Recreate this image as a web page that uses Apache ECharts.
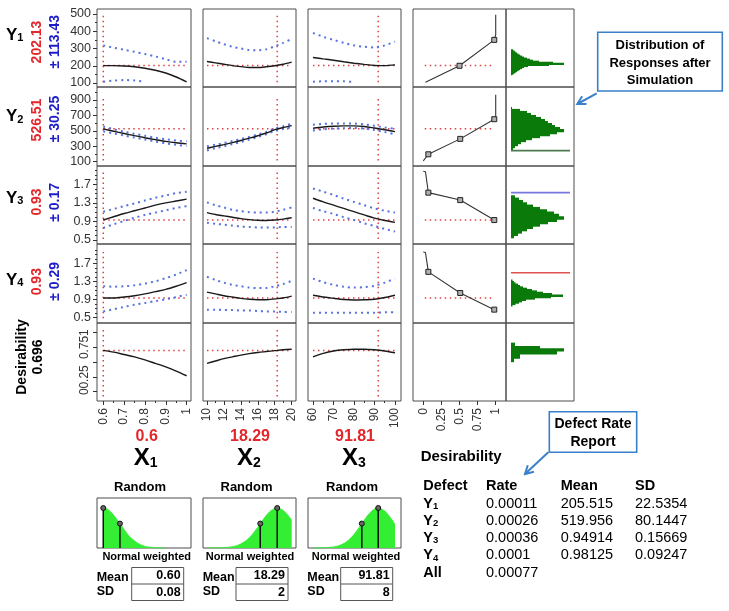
<!DOCTYPE html>
<html><head><meta charset="utf-8">
<script src="https://cdn.jsdelivr.net/npm/echarts@6/dist/echarts.min.js"></script>
<style>html,body{margin:0;padding:0;background:#fff}#c{width:729px;height:611px}</style>
</head><body><div id="c"></div>
<script>
// ================= DATA =================
const x1Grid = [0.6, 0.65, 0.7, 0.75, 0.8, 0.85, 0.9, 0.95, 1.0];
const x2Grid = [10, 11, 12, 13, 14, 15, 16, 17, 18, 19, 20];
const x3Grid = [60, 65, 70, 75, 80, 85, 90, 95, 100];
const factorRange = [[0.6, 1], [10, 20], [60, 100]];

const currentX = [0.6, 18.29, 91.81];
const currentXText = ['0.6', '18.29', '91.81'];
const currentY = [202.13, 526.51, 0.93, 0.93];
const currentYText = ['202.13', '526.51', '0.93', '0.93'];
const halfWidthText = ['\u00b1 113.43', '\u00b1 30.25', '\u00b1 0.17', '\u00b1 0.29'];
const currentD = 0.696;

// Y1 profiles
const y1_x1 = [201, 201, 199, 194, 186, 174, 158, 135, 107];
const y1_x1_hi = [318, 305, 293, 281, 268, 254, 238, 223, 224];
const y1_x1_lo = [108, 114, 117, 115, 107, null, null, null, null];
const y1_x2 = [225, 217, 209, 201, 195, 190, 190, 194, 200, 209, 221];
const y1_x2_hi = [360, 342, 325, 310, 300, 292, 290, 295, 313, 333, 355];
const y1_x2_lo = [null, null, null, null, null, null, null, null, null, null, null];
const y1_x3 = [248, 240, 232, 223, 215, 208, 202, 201, 205];
const y1_x3_hi = [390, 368, 350, 333, 318, 310, 306, 318, 340];
const y1_x3_lo = [108, 110, 111, 110, 106, null, null, null, null];
// Y2 profiles
const y2_x1 = [526, 495, 466, 438, 411, 386, 363, 345, 331];
const y2_x1_hi = [556, 522, 490, 461, 436, 411, 390, 374, 364];
const y2_x1_lo = [494, 466, 440, 413, 387, 361, 338, 318, 302];
const y2_x2 = [275, 298, 322, 348, 375, 405, 437, 472, 515, 543, 568];
const y2_x2_hi = [300, 320, 343, 368, 393, 422, 453, 487, 530, 560, 592];
const y2_x2_lo = [245, 275, 300, 328, 356, 388, 420, 455, 497, 525, 548];
const y2_x3 = [535, 550, 560, 565, 565, 557, 537, 515, 490];
const y2_x3_hi = [580, 590, 595, 597, 595, 585, 565, 545, 525];
const y2_x3_lo = [505, 520, 530, 535, 538, 530, 510, 485, 455];
// Y3 profiles
const y3_x1 = [0.93, 1.0, 1.07, 1.13, 1.19, 1.25, 1.3, 1.34, 1.38];
const y3_x1_hi = [1.11, 1.17, 1.23, 1.29, 1.35, 1.41, 1.46, 1.51, 1.54];
const y3_x1_lo = [0.76, 0.84, 0.91, 0.98, 1.04, 1.09, 1.14, 1.19, 1.23];
const y3_x2 = [1.09, 1.05, 1.02, 0.99, 0.96, 0.94, 0.925, 0.92, 0.93, 0.95, 0.98];
const y3_x2_hi = [1.31, 1.25, 1.2, 1.15, 1.12, 1.1, 1.09, 1.09, 1.11, 1.15, 1.2];
const y3_x2_lo = [0.87, 0.85, 0.83, 0.81, 0.79, 0.78, 0.77, 0.77, 0.77, 0.78, 0.78];
const y3_x3 = [1.40, 1.32, 1.25, 1.18, 1.11, 1.04, 0.97, 0.92, 0.88];
const y3_x3_hi = [1.61, 1.54, 1.47, 1.39, 1.32, 1.25, 1.18, 1.13, 1.09];
const y3_x3_lo = [1.19, 1.12, 1.06, 0.99, 0.93, 0.86, 0.8, 0.74, 0.68];
// Y4 profiles
const y4_x1 = [0.93, 0.93, 0.95, 0.98, 1.02, 1.07, 1.12, 1.19, 1.27];
const y4_x1_hi = [1.19, 1.18, 1.19, 1.21, 1.25, 1.3, 1.37, 1.45, 1.55];
const y4_x1_lo = [0.63, 0.68, 0.73, 0.78, 0.82, 0.86, 0.9, 0.95, 1.0];
const y4_x2 = [1.06, 1.02, 0.98, 0.95, 0.92, 0.9, 0.89, 0.89, 0.91, 0.93, 0.97];
const y4_x2_hi = [1.40, 1.33, 1.27, 1.22, 1.19, 1.16, 1.15, 1.15, 1.19, 1.24, 1.31];
const y4_x2_lo = [0.67, 0.67, 0.66, 0.66, 0.65, 0.65, 0.64, 0.63, 0.63, 0.62, 0.62];
const y4_x3 = [0.99, 0.95, 0.92, 0.895, 0.885, 0.89, 0.9, 0.94, 0.99];
const y4_x3_hi = [1.36, 1.28, 1.22, 1.18, 1.16, 1.17, 1.2, 1.27, 1.36];
const y4_x3_lo = [0.6, 0.6, 0.6, 0.6, 0.6, 0.6, 0.6, 0.61, 0.61];
// Desirability profiles
const d_x1 = [0.70, 0.67, 0.63, 0.59, 0.54, 0.48, 0.42, 0.35, 0.27];
const d_x2 = [0.48, 0.52, 0.56, 0.59, 0.62, 0.645, 0.665, 0.68, 0.695, 0.71, 0.72];
const d_x3 = [0.59, 0.65, 0.69, 0.71, 0.72, 0.72, 0.71, 0.69, 0.66];

// extent of vertical current-value lines per row
const vLineExtent = [[105, 495], [115, 935], [0.52, 1.97], [0.48, 1.95], [-0.08, 1.05]];

// desirability functions (desirability, response); key = marked point
const dfY1_d = [0.03, 0.05, 0.5, 0.98, 1.0, 1.0];
const dfY1_v = [105, 112, 200, 350, 380, 495];
const dfY2_d = [0.0, 0.07, 0.51, 0.98, 1.0, 1.0];
const dfY2_v = [110, 196, 396, 651, 690, 970];
const dfY3_d = [0.0, 0.03, 0.07, 0.51, 0.98, 1.0];
const dfY3_v = [1.98, 1.97, 1.52, 1.36, 0.93, 0.93];
const dfY4_d = [0.0, 0.03, 0.07, 0.51, 0.98, 1.0];
const dfY4_v = [1.95, 1.94, 1.51, 1.04, 0.67, 0.66];
const dfY1_key = [false, false, true, true, false, false];
const dfY2_key = [false, true, true, true, false, false];
const dfY3_key = [false, false, true, true, true, false];
const dfY4_key = [false, false, true, true, true, false];

// simulated response histograms (bin centre, count)
const histY1_c = [151,157,163,169,175,181,187,193,199,205,211,217,223,229,235,241,247,253,259,265,271,277,283,289];
const histY1_n = [1.5,3,4.5,6,7.5,9,11,13,17,38,53,42,28,22,19,16,13,11,9,7.5,6,4.5,3.5,2];
const histY1_w = 6;
const histY2_c = [270,296,322,348,374,400,426,452,478,504,530,556,582,608,634,660,686,712,738,764,790];
const histY2_n = [2,4,7,10,15,21,29,39,46,53,49,44,41,37,34,30,25,20,16,9,1];
const histY2_w = 26;
const histY3_c = [0.575,0.625,0.675,0.725,0.775,0.825,0.875,0.925,0.975,1.025,1.075,1.125,1.175,1.225,1.275,1.325,1.375,1.425];
const histY3_n = [3,7,11,16,22,29,37,46,53,48,43,36,29,22,16,12,8,4];
const histY3_w = 0.05;
const histY4_c = [0.77,0.80,0.83,0.86,0.89,0.92,0.95,0.98,1.01,1.04,1.07,1.10,1.13,1.16,1.19,1.22,1.25,1.28,1.31];
const histY4_n = [1.5,4.5,8,11,15,24,40,52,41,32,26,21,16,12,9,7,4.5,3,1.5];
const histY4_w = 0.03;
const histD_lo = [0.764, 0.725, 0.691, 0.640, 0.568, 0.51];
const histD_hi = [0.821, 0.764, 0.725, 0.691, 0.640, 0.568];
const histD_n = [4, 29, 53, 46, 9, 3];
const specLimit = [null, 244, 1.52, 1.49, null];
const specLen = 59;

// factor input distributions (normal weighted)
const distX1 = [0.6,0.62,0.64,0.66,0.68,0.70,0.72,0.74,0.76,0.78,0.80,0.82,0.84,0.86,0.88,0.90];
const distH1 = [1,0.97,0.88,0.75,0.61,0.46,0.32,0.22,0.14,0.08,0.04,0.02,0.01,0.005,0.002,0.001];
const distX2 = [10,11,12,13,13.5,14,14.5,15,15.5,16,16.5,17,17.5,18,18.29,18.5,19,19.5,20];
const distH2 = [0.0002,0.0013,0.007,0.03,0.057,0.10,0.166,0.258,0.378,0.519,0.67,0.812,0.925,0.99,1,0.994,0.939,0.833,0.694];
const distX3 = [60,65,70,72.5,75,77.5,80,82.5,85,87.5,90,91.81,92.5,95,97.5,100];
const distH3 = [0.0004,0.004,0.024,0.054,0.11,0.202,0.336,0.508,0.696,0.865,0.975,1,0.996,0.924,0.777,0.592];
const distMean = [0.6, 18.29, 91.81];
const distSdPoint = [0.68, 16.29, 83.81];
const distSdH = 0.61;
const meanText = ['0.60', '18.29', '91.81'];
const sdText = ['0.08', '2', '8'];

// defect table
const defectNames = ['1', '2', '3', '4'];
const defectRate = ['0.00011', '0.00026', '0.00036', '0.0001'];
const defectMean = ['205.515', '519.956', '0.94914', '0.98125'];
const defectSD = ['22.5354', '80.1447', '0.15669', '0.09247'];
const defectAll = '0.00077';

// tick values
const x1Ticks = [0.6, 0.7, 0.8, 0.9, 1], x1Minor = [0.65, 0.75, 0.85, 0.95];
const x2Ticks = [10, 12, 14, 16, 18, 20], x2Minor = [11, 13, 15, 17, 19];
const x3Ticks = [60, 70, 80, 90, 100], x3Minor = [65, 75, 85, 95];
const dxTicks = [0, 0.25, 0.5, 0.75, 1];
const y1Ticks = [100, 200, 300, 400, 500], y1Minor = [150, 250, 350, 450];
const y2Ticks = [100, 300, 500, 700, 900], y2Minor = [200, 400, 600, 800, 1000];
const y3Ticks = [0.5, 0.9, 1.3, 1.7], y3Minor = [0.6, 0.7, 0.8, 1.0, 1.1, 1.2, 1.4, 1.5, 1.6, 1.8, 1.9, 2.0];
const y4Ticks = [0.5, 0.9, 1.3, 1.7], y4Minor = [0.6, 0.7, 0.8, 1.0, 1.1, 1.2, 1.4, 1.5, 1.6, 1.8, 1.9, 2.0];
const dTicks = [0, 0.25, 0.5, 0.75, 1];
const dLabelsA = [0, 1];
const dLabelsB = [0.25, 0.75];

// ================= LAYOUT / STYLE =================
const FONT = '"Liberation Sans", Arial, Helvetica, sans-serif';
const colL = [97, 203, 308, 413, 506], colW = [94, 93, 93, 93, 68];
const rowT = [9, 87, 166, 244, 323], rowH = [78, 79, 78, 79, 78];
const yRange = [[77, 529], [44, 1069], [0.414, 2.094], [0.373, 2.129], [-0.158, 1.164]];
const xRange = [[0.570, 1.021], [9.53, 20.51], [57.56, 102.93], [-0.142, 1.142], [-5, 63]];
const RED = '#e3262b', BLUE = '#1c1cc8', BORDER = '#4d4d4d', AX = '#333';
const GREEN_D = '#0a7a0a', GREEN_L = '#33ee33';

const grid = [], xAxis = [], yAxis = [], series = [], graphic = [];
const NOLINE = {show: false, onZero: false};

function mkAxis(dir, gi, r, ticks, minor, labelOpt, labelValues) {
  const a = {type: 'value', gridIndex: gi, min: r[0], max: r[1],
    position: dir === 'x' ? 'bottom' : 'left',
    axisLine: NOLINE, splitLine: {show: false}, axisPointer: {show: false}};
  if (ticks) {
    a.axisTick = {show: true, customValues: ticks, length: 4, inside: false, lineStyle: {color: AX}};
    if (labelValues === undefined) {
      a.axisLabel = Object.assign({show: true, customValues: ticks, color: AX, fontFamily: FONT, fontSize: 12, margin: 5,
        showMinLabel: true, showMaxLabel: true, hideOverlap: false}, labelOpt || {});
    } else {
      a.axisLabel = {show: false};
    }
  } else {
    a.axisTick = {show: false};
    a.axisLabel = {show: false};
  }
  const list = dir === 'x' ? xAxis : yAxis;
  const idx = list.length;
  list.push(a);
  if (minor) {
    list.push({type: 'value', gridIndex: gi, min: r[0], max: r[1], position: a.position,
      axisLine: NOLINE, splitLine: {show: false}, axisLabel: {show: false},
      axisTick: {show: true, customValues: minor, length: 2, inside: false, lineStyle: {color: AX}}});
  }
  if (labelValues) {
    labelValues.forEach(vals => {
      list.push({type: 'value', gridIndex: gi, min: r[0], max: r[1], position: a.position,
        axisLine: NOLINE, splitLine: {show: false}, axisTick: {show: false},
        axisLabel: Object.assign({show: true, customValues: vals, color: AX, fontFamily: FONT, fontSize: 12, margin: 6,
          showMinLabel: true, showMaxLabel: true, hideOverlap: false}, labelOpt || {})});
    });
  }
  return idx;
}
function mkGrid(l, t, w, h) {
  grid.push({left: l, top: t, width: w, height: h, show: true, borderColor: BORDER, borderWidth: 1, backgroundColor: 'transparent'});
  return grid.length - 1;
}
function addLine(xi, yi, xs, ys, lineStyle, extra) {
  series.push(Object.assign({type: 'line', xAxisIndex: xi, yAxisIndex: yi, silent: true,
    data: xs.map((x, i) => [x, ys[i]]), symbol: 'none', showSymbol: false, connectNulls: false,
    lineStyle: lineStyle, animation: false}, extra || {}));
}
const redDot = {color: '#e04040', width: 1.5, type: [1.5, 3.5]};
const blueDot = {color: '#5572e0', width: 2, type: [2, 4]};
const blackLn = {color: '#1a1a1a', width: 1.4};

const xGrids = [x1Grid, x2Grid, x3Grid];
const prof = [
  [[y1_x1, y1_x1_hi, y1_x1_lo], [y1_x2, y1_x2_hi, y1_x2_lo], [y1_x3, y1_x3_hi, y1_x3_lo]],
  [[y2_x1, y2_x1_hi, y2_x1_lo], [y2_x2, y2_x2_hi, y2_x2_lo], [y2_x3, y2_x3_hi, y2_x3_lo]],
  [[y3_x1, y3_x1_hi, y3_x1_lo], [y3_x2, y3_x2_hi, y3_x2_lo], [y3_x3, y3_x3_hi, y3_x3_lo]],
  [[y4_x1, y4_x1_hi, y4_x1_lo], [y4_x2, y4_x2_hi, y4_x2_lo], [y4_x3, y4_x3_hi, y4_x3_lo]],
  [[d_x1], [d_x2], [d_x3]]
];
const yTickSets = [[y1Ticks, y1Minor], [y2Ticks, y2Minor], [y3Ticks, y3Minor], [y4Ticks, y4Minor], [dTicks, null]];
const xTickSets = [[x1Ticks, x1Minor], [x2Ticks, x2Minor], [x3Ticks, x3Minor], [dxTicks, null], [null, null]];
const rowCur = [currentY[0], currentY[1], currentY[2], currentY[3], currentD];

const dfSets = [[dfY1_d, dfY1_v, dfY1_key], [dfY2_d, dfY2_v, dfY2_key], [dfY3_d, dfY3_v, dfY3_key], [dfY4_d, dfY4_v, dfY4_key]];
function histBins(c, n, w) { return c.map((v, i) => [v - w / 2, v + w / 2, n[i]]); }
const histSets = [
  histBins(histY1_c, histY1_n, histY1_w), histBins(histY2_c, histY2_n, histY2_w),
  histBins(histY3_c, histY3_n, histY3_w), histBins(histY4_c, histY4_n, histY4_w),
  histD_lo.map((v, i) => [v, histD_hi[i], histD_n[i]])
];
const specColors = [null, '#4f7a4f', '#7777dd', '#e05050', null];

for (let r = 0; r < 5; r++) {
  for (let c = 0; c < 5; c++) {
    const gi = mkGrid(colL[c], rowT[r], colW[c], rowH[r]);
    const bottom = r === 4;
    const xi = mkAxis('x', gi, xRange[c], bottom ? xTickSets[c][0] : null, bottom ? xTickSets[c][1] : null,
      {rotate: 90, margin: 7, fontSize: 12});
    let yi;
    if (c === 0 && r === 4) {
      yi = mkAxis('y', gi, yRange[r], dTicks, null, {rotate: 90, margin: 6, fontSize: 12}, [dLabelsA, dLabelsB]);
    } else {
      yi = mkAxis('y', gi, yRange[r], c === 0 ? yTickSets[r][0] : null, c === 0 ? yTickSets[r][1] : null,
        {margin: 6, fontSize: 12.5});
    }
    if (c < 3) {
      const xs = xGrids[c];
      const fr = factorRange[c];
      addLine(xi, yi, [fr[0], fr[1]], [rowCur[r], rowCur[r]], redDot);
      addLine(xi, yi, [currentX[c], currentX[c]], vLineExtent[r], redDot);
      const p = prof[r][c];
      if (p[1]) addLine(xi, yi, xs, p[1], blueDot, {smooth: 0.3});
      if (p[2]) addLine(xi, yi, xs, p[2], blueDot, {smooth: 0.3});
      addLine(xi, yi, xs, p[0], blackLn, {smooth: 0.3});
    } else if (c === 3 && r < 4) {
      addLine(xi, yi, [0.02, 0.96], [rowCur[r], rowCur[r]], redDot);
      const s = dfSets[r];
      series.push({type: 'line', xAxisIndex: xi, yAxisIndex: yi, silent: true, animation: false,
        lineStyle: {color: '#333', width: 1.1}, showSymbol: true,
        data: s[0].map((d, i) => ({value: [d, s[1][i]], symbol: s[2][i] ? 'rect' : 'none', symbolSize: 5})),
        itemStyle: {color: '#b0b0b0', borderColor: '#222', borderWidth: 1}});
    } else if (c === 4) {
      if (specLimit[r] !== null) {
        addLine(xi, yi, [0, specLen], [specLimit[r], specLimit[r]], {color: specColors[r], width: 1.6});
      }
      series.push({type: 'custom', xAxisIndex: xi, yAxisIndex: yi, silent: true, animation: false,
        data: histSets[r], encode: {x: 2, y: [0, 1]},
        renderItem: function (params, api) {
          const p1 = api.coord([0, api.value(1)]);
          const p2 = api.coord([api.value(2), api.value(0)]);
          return {type: 'rect', shape: {x: p1[0], y: p1[1] - 0.6, width: p2[0] - p1[0], height: p2[1] - p1[1] + 1.2},
            style: {fill: GREEN_D}};
        }});
    }
  }
}

// factor distribution boxes
const distXs = [distX1, distX2, distX3], distHs = [distH1, distH2, distH3];
for (let c = 0; c < 3; c++) {
  const gi = mkGrid(colL[c], 498, colW[c], 50);
  const xi = mkAxis('x', gi, xRange[c], null, null);
  const yi = mkAxis('y', gi, [0, 1.25], null, null);
  addLine(xi, yi, distXs[c], distHs[c], {color: GREEN_L, width: 1}, {areaStyle: {color: GREEN_L, opacity: 1}, smooth: 0.2});
  [[distMean[c], 1], [distSdPoint[c], distSdH]].forEach(m => {
    series.push({type: 'line', xAxisIndex: xi, yAxisIndex: yi, silent: true, animation: false,
      lineStyle: {color: '#111', width: 1.5}, showSymbol: true,
      data: [{value: [m[0], 0], symbol: 'none'}, {value: [m[0], m[1]], symbol: 'circle', symbolSize: 5}],
      itemStyle: {color: '#666', borderColor: '#111', borderWidth: 1}});
  });
}

// ================= TEXT =================
function T(x, y, text, font, fill, o) {
  o = o || {};
  const el = {type: 'text', x: x, y: y, silent: true, z: 100,
    style: {text: text, font: font, fill: fill,
      align: o.align || 'center', textAlign: o.align || 'center',
      verticalAlign: o.va || 'middle', textVerticalAlign: o.va || 'middle'}};
  if (o.rot) el.rotation = o.rot;
  if (o.rich) el.style.rich = o.rich;
  graphic.push(el);
}
const B = s => 'bold ' + s + 'px ' + FONT;
const R = s => s + 'px ' + FONT;
function subRich(big, small, pad) {
  return {a: {font: B(big), fill: '#000', color: '#000', verticalAlign: 'bottom'},
          b: {font: B(small), fill: '#000', color: '#000', verticalAlign: 'bottom', padding: [0, 0, pad, 0]}};
}
const UP = Math.PI / 2;
const yLabY = [35, 116.7, 198.3, 280];
const redY = [42, 120, 202, 281.7];
const blueY = [41.7, 119, 202.4, 281.3];
for (let r = 0; r < 4; r++) {
  T(6, yLabY[r], '{a|Y}{b|' + (r + 1) + '}', B(17), '#000', {align: 'left', rich: subRich(17, 11, 0)});
  T(37, redY[r], currentYText[r], B(14), RED, {rot: UP});
  T(55, blueY[r], halfWidthText[r], B(14), BLUE, {rot: UP});
}
T(22, 357, 'Desirability', B(14), '#000', {rot: UP});
T(38, 357, String(currentD), B(14), '#000', {rot: UP});

const colCx = [146.7, 250, 355];
for (let c = 0; c < 3; c++) {
  T(colCx[c], 436.7, currentXText[c], B(16), RED);
  T(colCx[c] - 1, 458, '{a|X}{b|' + (c + 1) + '}', B(24), '#000', {rich: subRich(24, 14, 0)});
  T([140, 246.5, 352][c], 487.5, 'Random', B(13), '#000');
  T([146.7, 250, 356][c], 556.7, 'Normal weighted', B(11), '#000');
  const ml = [96.7, 202.7, 307.3][c];
  const bl = [131.7, 236, 340.7][c];
  T(ml, 577.3, 'Mean', B(12.5), '#000', {align: 'left'});
  T(ml, 591.7, 'SD', B(12.5), '#000', {align: 'left'});
  graphic.push({type: 'rect', silent: true, shape: {x: bl, y: 567.5, width: 52, height: 33},
    style: {fill: '#fff', stroke: '#555', lineWidth: 1}});
  graphic.push({type: 'line', silent: true, shape: {x1: bl, y1: 584, x2: bl + 52, y2: 584}, style: {stroke: '#555', lineWidth: 1}});
  T(bl + 49, 576, meanText[c], B(12.5), '#000', {align: 'right'});
  T(bl + 49, 592.5, sdText[c], B(12.5), '#000', {align: 'right'});
}

// defect table
T(420.7, 457.3, 'Desirability', B(15), '#000', {align: 'left'});
const tx = [423.3, 486, 560.7, 635];
const ty = [486, 503.8, 521, 538.2, 555.4, 572.6];
T(tx[0], ty[0], 'Defect', B(14.5), '#000', {align: 'left'});
T(tx[1], ty[0], 'Rate', B(14.5), '#000', {align: 'left'});
T(tx[2], ty[0], 'Mean', B(14.5), '#000', {align: 'left'});
T(tx[3], ty[0], 'SD', B(14.5), '#000', {align: 'left'});
for (let i = 0; i < 4; i++) {
  T(tx[0], ty[i + 1], '{a|Y}{b|' + defectNames[i] + '}', B(14.5), '#000', {align: 'left', rich: subRich(14.5, 9.5, 0)});
  T(tx[1], ty[i + 1], defectRate[i], R(14.5), '#000', {align: 'left'});
  T(tx[2], ty[i + 1], defectMean[i], R(14.5), '#000', {align: 'left'});
  T(tx[3], ty[i + 1], defectSD[i], R(14.5), '#000', {align: 'left'});
}
T(tx[0], ty[5], 'All', B(14.5), '#000', {align: 'left'});
T(tx[1], ty[5], defectAll, R(14.5), '#000', {align: 'left'});

// callouts
const CALL = '#3a80c8';
function callout(x, y, w, h, lines, ly, font) {
  graphic.push({type: 'rect', silent: true, shape: {x: x, y: y, width: w, height: h},
    style: {fill: '#fff', stroke: CALL, lineWidth: 1.6}, z: 90});
  lines.forEach((s, i) => T(x + w / 2, ly[i], s, font, '#000'));
}
function arrow(x1, y1, x2, y2) {
  const dx = x2 - x1, dy = y2 - y1, L = Math.hypot(dx, dy), ux = dx / L, uy = dy / L;
  const bx = x2 - 8 * ux, by = y2 - 8 * uy, px = -uy * 4.5, py = ux * 4.5;
  graphic.push({type: 'line', silent: true, shape: {x1: x1, y1: y1, x2: x2, y2: y2}, style: {stroke: CALL, lineWidth: 2}, z: 90});
  graphic.push({type: 'polyline', silent: true, shape: {points: [[bx + px, by + py], [x2, y2], [bx - px, by - py]]},
    style: {stroke: CALL, lineWidth: 2, fill: null}, z: 90});
}
callout(597.7, 32.3, 124.6, 58.7, ['Distribution of', 'Responses after', 'Simulation'], [45, 63, 80], B(13));
arrow(596.7, 93.3, 577.3, 104);
callout(549.3, 411.7, 87.4, 40.6, ['Defect Rate', 'Report'], [424, 441.7], B(14));
arrow(548.3, 452.3, 525, 474);

const chart = echarts.init(document.getElementById('c'), null, {renderer: 'canvas'});
chart.setOption({animation: false, backgroundColor: '#fff', grid: grid, xAxis: xAxis, yAxis: yAxis, series: series, graphic: graphic});
</script></body></html>
